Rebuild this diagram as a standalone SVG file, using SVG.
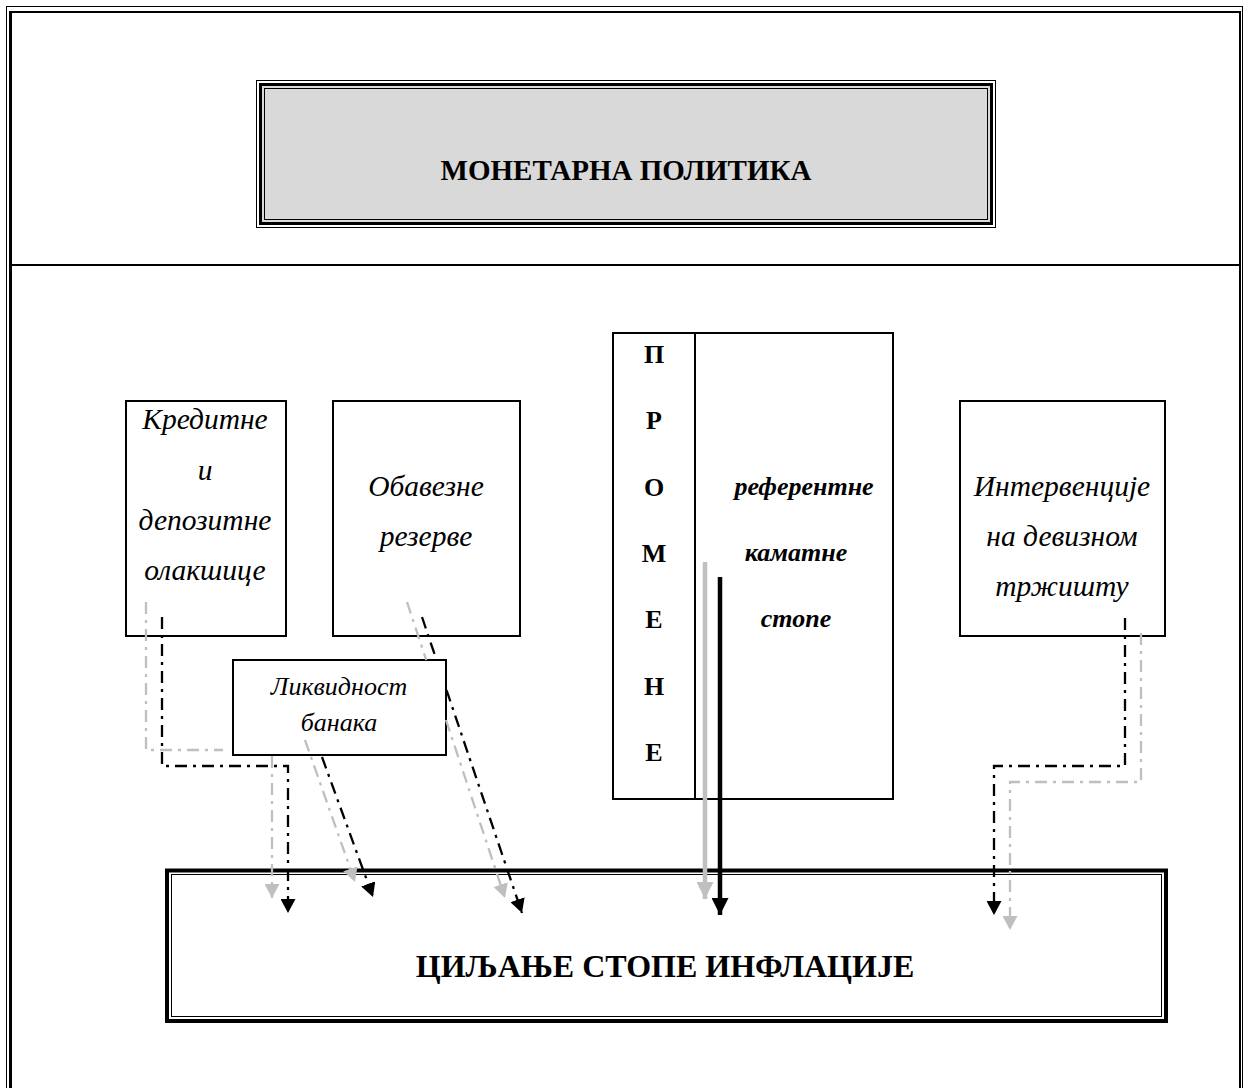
<svg xmlns="http://www.w3.org/2000/svg" width="1243" height="1088" viewBox="0 0 1243 1088">
<style>
.box{fill:#fff;stroke:#000;stroke-width:2}
.it{font-family:"Liberation Serif","Times New Roman",serif;font-style:italic;font-size:29.5px;text-anchor:middle;fill:#000}
.it2{font-family:"Liberation Serif","Times New Roman",serif;font-style:italic;font-size:26px;text-anchor:middle;fill:#000}
.bd{font-family:"Liberation Serif","Times New Roman",serif;font-weight:bold;text-anchor:middle;fill:#000}
.bk{fill:none;stroke:#000;stroke-width:2.3;stroke-dasharray:12 6 3 6}
.gy{fill:none;stroke:#bfbfbf;stroke-width:2.3;stroke-dasharray:12 6 3 6}
.frame{stroke:#000;fill:none}
</style>
<defs>
<marker id="ahB" markerUnits="userSpaceOnUse" markerWidth="14" markerHeight="15" viewBox="0 0 14 15" refX="14" refY="7.5" orient="auto"><path d="M0,0 L14,7.5 L0,15 z" fill="#000"/></marker>
<marker id="ahG" markerUnits="userSpaceOnUse" markerWidth="14" markerHeight="15" viewBox="0 0 14 15" refX="14" refY="7.5" orient="auto"><path d="M0,0 L14,7.5 L0,15 z" fill="#bfbfbf"/></marker>
<marker id="ahB2" markerUnits="userSpaceOnUse" markerWidth="17" markerHeight="17" viewBox="0 0 17 17" refX="17" refY="8.5" orient="auto"><path d="M0,0 L17,8.5 L0,17 z" fill="#000"/></marker>
<marker id="ahG2" markerUnits="userSpaceOnUse" markerWidth="17" markerHeight="17" viewBox="0 0 17 17" refX="17" refY="8.5" orient="auto"><path d="M0,0 L17,8.5 L0,17 z" fill="#c0c0c0"/></marker>
</defs>
<rect width="1243" height="1088" fill="#fff"/>
<g id="frame" class="frame">
<line x1="6.5" y1="6.5" x2="1242.5" y2="6.5" stroke-width="1"/>
<line x1="6.5" y1="6" x2="6.5" y2="1088" stroke-width="1"/>
<line x1="1242.5" y1="6" x2="1242.5" y2="1088" stroke-width="1"/>
<line x1="10.5" y1="11" x2="10.5" y2="1088" stroke-width="3"/>
<line x1="9" y1="12" x2="1241" y2="12" stroke-width="2"/>
<line x1="1240" y1="11" x2="1240" y2="1088" stroke-width="2"/>
<line x1="12" y1="265" x2="1239" y2="265" stroke-width="2"/>
</g>
<g id="node-monetarna">
<rect x="256.5" y="80.5" width="739" height="147" fill="#fff" stroke="#000" stroke-width="1"/>
<rect x="260.5" y="84.5" width="731" height="139" fill="#d9d9d9" stroke="#000" stroke-width="3"/>
<rect x="264.5" y="88.5" width="723" height="131" fill="#d9d9d9" stroke="#000" stroke-width="1"/>
<text class="bd" x="626" y="180" font-size="29">МОНЕТАРНА ПОЛИТИКА</text>
</g>
<g id="node-kreditne">
<rect class="box" x="126" y="401" width="160" height="235"/>
<text class="it" x="205" y="429">Кредитне</text>
<text class="it" x="205" y="480">и</text>
<text class="it" x="205" y="530">депозитне</text>
<text class="it" x="205" y="580">олакшице</text>
</g>
<g id="node-obavezne">
<rect class="box" x="333" y="401" width="187" height="235"/>
<text class="it" x="426" y="496">Обавезне</text>
<text class="it" x="426" y="546">резерве</text>
</g>
<g id="node-promene">
<rect class="box" x="613" y="333" width="280" height="466"/>
<line x1="695" y1="333" x2="695" y2="799" stroke="#000" stroke-width="2"/>
<text class="bd" font-size="26" x="654" y="363">П</text>
<text class="bd" font-size="26" x="654" y="429">Р</text>
<text class="bd" font-size="26" x="654" y="496">О</text>
<text class="bd" font-size="26" x="654" y="562">М</text>
<text class="bd" font-size="26" x="654" y="628">Е</text>
<text class="bd" font-size="26" x="654" y="695">Н</text>
<text class="bd" font-size="26" x="654" y="761">Е</text>
<text class="bd" font-size="26" font-style="italic" x="804" y="495">референтне</text>
<text class="bd" font-size="26" font-style="italic" x="796" y="561">каматне</text>
<text class="bd" font-size="26" font-style="italic" x="796" y="627">стопе</text>
</g>
<g id="node-intervencije">
<rect class="box" x="960" y="401" width="205" height="235"/>
<text class="it" x="1062" y="496">Интервенције</text>
<text class="it" x="1062" y="546">на девизном</text>
<text class="it" x="1062" y="596">тржишту</text>
</g>
<g id="node-ciljanje">
<rect x="167" y="870.5" width="999" height="150.5" fill="#fff" stroke="#000" stroke-width="4"/>
<rect x="171.5" y="874.5" width="990" height="142" fill="none" stroke="#000" stroke-width="1"/>
<text class="bd" font-size="32" x="665" y="977">ЦИЉАЊЕ СТОПЕ ИНФЛАЦИЈЕ</text>
</g>
<g id="node-likvidnost">
<rect class="box" x="233" y="660" width="213" height="95"/>
<text class="it2" x="339" y="695">Ликвидност</text>
<text class="it2" x="339" y="731">банака</text>
</g>
<g id="connectors">
<path class="gy" d="M146,602 V750 H223"/>
<path class="gy" d="M272,756 V898" marker-end="url(#ahG)"/>
<path class="bk" d="M162,617 V766 H288 V913" marker-end="url(#ahB)"/>
<path class="gy" d="M305,740 L355,882" marker-end="url(#ahG)"/>
<path class="bk" d="M322,757 L373,897" marker-end="url(#ahB)"/>
<path class="gy" d="M407,602 L426.2,660"/>
<path class="gy" d="M446,720 L505,898" marker-end="url(#ahG)"/>
<path class="bk" d="M422,617 L436.5,660"/>
<path class="bk" d="M446.5,690 L522,913" marker-end="url(#ahB)"/>
<line x1="705" y1="562" x2="705" y2="899" stroke="#c0c0c0" stroke-width="4.5" marker-end="url(#ahG2)"/>
<line x1="720" y1="577" x2="720" y2="915" stroke="#000" stroke-width="4.5" marker-end="url(#ahB2)"/>
<path class="bk" d="M1125,618 V766 H994 V915" marker-end="url(#ahB)"/>
<path class="gy" d="M1141,633 V782 H1010 V930" marker-end="url(#ahG)"/>
</g>
</svg>
